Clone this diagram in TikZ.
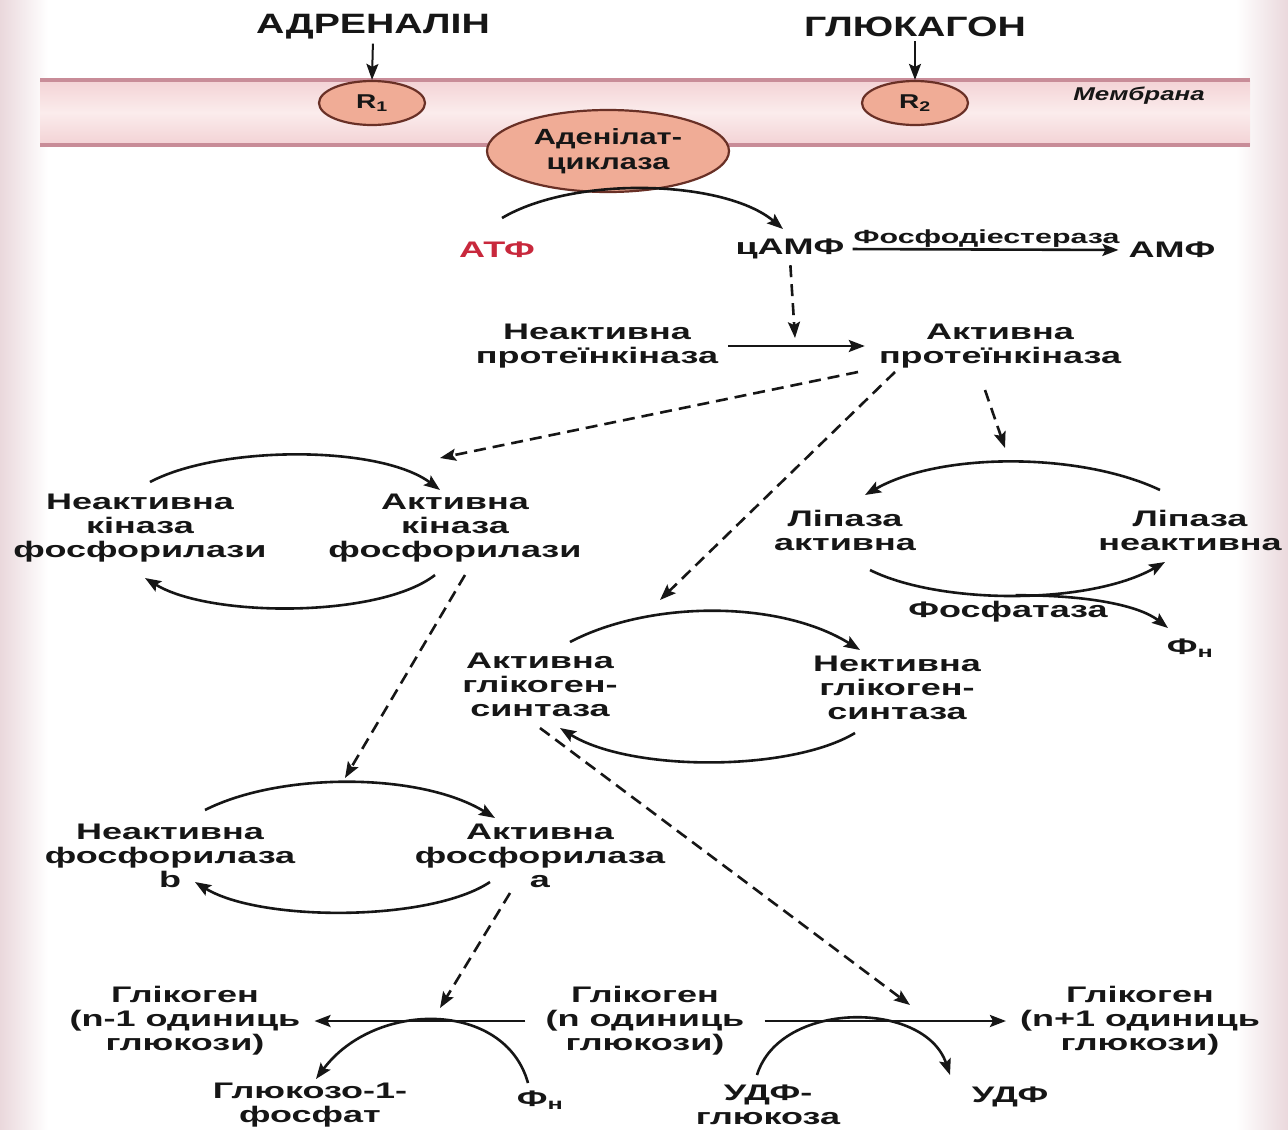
\documentclass[tikz,border=0pt]{standalone}
\usepackage{fontspec}
\setmainfont{Liberation Sans}
\newfontfamily\lab{Liberation Sans}[FakeStretch=1.6]
\newfontfamily\hdr{Liberation Sans}[FakeStretch=1.4]
\usetikzlibrary{arrows.meta,shapes.geometric}
\definecolor{ink}{RGB}{22,22,22}
\definecolor{edge}{RGB}{234,216,220}
\definecolor{memA}{RGB}{243,210,213}
\definecolor{memB}{RGB}{251,236,236}
\definecolor{memline}{RGB}{200,140,152}
\definecolor{recfill}{RGB}{240,172,150}
\definecolor{recline}{RGB}{105,48,38}
\definecolor{atfred}{RGB}{200,40,60}
\tikzset{
  lbl/.style={font=\lab\bfseries\fontsize{22.5}{24}\selectfont, align=center, inner sep=0pt, text=ink},
  hdrlbl/.style={font=\hdr\bfseries\fontsize{28}{30}\selectfont, inner sep=0pt, text=ink},
  small/.style={font=\lab\bfseries\fontsize{19}{21}\selectfont, inner sep=0pt, text=ink},
  rec/.style={ellipse, draw=recline, line width=2.2pt, fill=recfill, inner sep=0pt, align=center, text=ink},
  arr/.style={-{Stealth[length=16pt,width=12pt,inset=3pt]}, line width=2.6pt, draw=ink},
  darr/.style={arr, dash pattern=on 12pt off 7pt},
}
\begin{document}
\begin{tikzpicture}[x=1pt,y=-1pt]
\useasboundingbox (0,0) rectangle (1288,1130);
\fill[white] (0,0) rectangle (1288,1130);
\shade[left color=edge, right color=white] (0,0) rectangle (48,1130);
\shade[left color=white, right color=edge] (1236,0) rectangle (1288,1130);
% membrane
\shade[top color=memA, bottom color=memA, middle color=memB] (40,80) rectangle (1250,145);
\draw[memline, line width=3.5pt] (40,80) -- (1250,80);
\draw[memline, line width=3.5pt] (40,145) -- (1250,145);
\node[font=\hdr\bfseries\itshape\fontsize{18.5}{20}\selectfont, text=ink, inner sep=0pt] (mem) at (1139,96) {Мембрана};

% hormones and receptors
\node[hdrlbl] (adr) at (373,27) {АДРЕНАЛІН};
\node[hdrlbl] (glu) at (915,27) {ГЛЮКАГОН};
\node[rec, minimum width=106pt, minimum height=44pt, font=\hdr\bfseries\fontsize{20}{22}\selectfont] (r1) at (372,103) {R\textsubscript{1}};
\node[rec, minimum width=106pt, minimum height=44pt, font=\hdr\bfseries\fontsize{20}{22}\selectfont] (r2) at (915,103) {R\textsubscript{2}};
\node[rec, minimum width=242pt, minimum height=82pt, font=\hdr\bfseries\fontsize{22}{25}\selectfont] (ac) at (608,151) {Аденілат-\\циклаза};
\draw[arr, line width=2pt, shorten <=4pt] (adr.south) -- (r1.north);
\draw[arr, line width=2pt, shorten <=4pt] (glu.south) -- (r2.north);

% ATP -> cAMP
\node[lbl, text=atfred] (atf) at (497,250) {АТФ};
\node[lbl] (camp) at (790,249) {цАМФ};
\node[lbl] (amp) at (1172,250) {АМФ};
\draw[arr] ([shift={(5,-32)}]atf.center) .. controls (575,175) and (725,180) .. ([shift={(-7,-20)}]camp.center);
\draw[arr] (camp.east) -- node[small, above=1pt] (pde) {Фосфодіестераза} (amp.west) [shorten <=8pt, shorten >=10pt];

% protein kinase
\node[lbl] (npk) at (597,346) {Неактивна\\протеїнкіназа};
\node[lbl] (apk) at (1000,346) {Активна\\протеїнкіназа};
\draw[arr, shorten <=10pt, shorten >=14pt] (npk.east) -- (apk.west);
\coordinate (pkm) at (795,338);
\draw[darr, shorten <=6pt] (camp.south) -- (pkm);

% kinase of phosphorylase cycle
\node[lbl] (nkf) at (140,528) {Неактивна\\кіназа\\фосфорилази};
\node[lbl] (akf) at (455,528) {Активна\\кіназа\\фосфорилази};
\draw[arr] ([shift={(10,-46)}]nkf.center) .. controls (220,445) and (380,445) .. ([shift={(-15,-38)}]akf.center);
\draw[arr] ([shift={(-20,47)}]akf.center) .. controls (380,618) and (210,618) .. ([shift={(5,50)}]nkf.center);

% lipase cycle
\node[lbl] (la) at (845,530) {Ліпаза\\активна};
\node[lbl] (ln) at (1190,530) {Ліпаза\\неактивна};
\node[lbl] (fos) at (1008,612) {Фосфатаза};
\node[lbl] (fn1) at (1190,648) {Ф\textsubscript{н}};
\draw[arr] ([shift={(-30,-40)}]ln.center) .. controls (1080,452) and (940,452) .. ([shift={(20,-35)}]la.center);
\draw[arr] ([shift={(25,40)}]la.center) .. controls (940,605) and (1090,605) .. coordinate[pos=0.5] (lipmid) ([shift={(-25,32)}]ln.center);
\draw[arr] (lipmid) .. controls (1090,595) and (1140,606) .. ([shift={(-22,-20)}]fn1.center);

% glycogen synthase cycle
\node[lbl] (ags) at (540,685) {Активна\\глікоген-\\синтаза};
\node[lbl] (ngs) at (897,688) {Нективна\\глікоген-\\синтаза};
\draw[arr] ([shift={(30,-43)}]ags.center) .. controls (650,600) and (780,600) .. ([shift={(-37,-38)}]ngs.center);
\draw[arr] ([shift={(-42,45)}]ngs.center) .. controls (790,772) and (630,772) .. ([shift={(20,43)}]ags.center);

% phosphorylase cycle
\node[lbl] (nfb) at (170,856) {Неактивна\\фосфорилаза\\b};
\node[lbl] (afa) at (540,856) {Активна\\фосфорилаза\\a};
\draw[arr] ([shift={(35,-46)}]nfb.center) .. controls (280,772) and (420,772) .. ([shift={(-45,-38)}]afa.center);
\draw[arr] ([shift={(-50,26)}]afa.center) .. controls (430,922) and (260,922) .. ([shift={(25,26)}]nfb.center);

% dashed regulation arrows
\draw[darr] ([shift={(-142,26)}]apk.center) -- ([shift={(-15,-70)}]akf.center);
\draw[darr] ([shift={(-105,26)}]apk.center) -- ([shift={(120,-85)}]ags.center);
\draw[darr] ([shift={(-15,44)}]apk.center) -- ([shift={(160,-82)}]la.center);
\draw[darr] ([shift={(10,47)}]akf.center) -- ([shift={(-195,-78)}]afa.center);

% glycogen reactions
\node[lbl] (g1) at (185,1021) {Глікоген\\(n-1 одиниць\\глюкози)};
\node[lbl] (g0) at (645,1021) {Глікоген\\(n одиниць\\глюкози)};
\node[lbl] (g2) at (1140,1021) {Глікоген\\(n+1 одиниць\\глюкози)};
\node[lbl] (g1p) at (310,1105) {Глюкозо-1-\\фосфат};
\node[lbl] (fn2) at (540,1100) {Ф\textsubscript{н}};
\node[lbl] (udpg) at (768,1105) {УДФ-\\глюкоза};
\node[lbl] (udp) at (1010,1097) {УДФ};
\draw[arr, shorten <=20pt, shorten >=14pt] (g0.west) -- (g1.east);
\draw[arr, shorten <=20pt, shorten >=14pt] (g0.east) -- (g2.west);
\draw[arr] ([shift={(-12,-17)}]fn2.center) .. controls (505,1000) and (375,1000) .. ([shift={(6,-26)}]g1p.center);
\draw[arr] ([shift={(-11,-30)}]udpg.center) .. controls (780,1000) and (925,1000) .. ([shift={(-60,-22)}]udp.center);
\coordinate (rx1) at (440,1008);
\coordinate (rx2) at (910,1005);
\draw[darr] ([shift={(-30,37)}]afa.center) -- (rx1);
\draw[darr] ([shift={(0,43)}]ags.center) -- (rx2);
\end{tikzpicture}
\end{document}
